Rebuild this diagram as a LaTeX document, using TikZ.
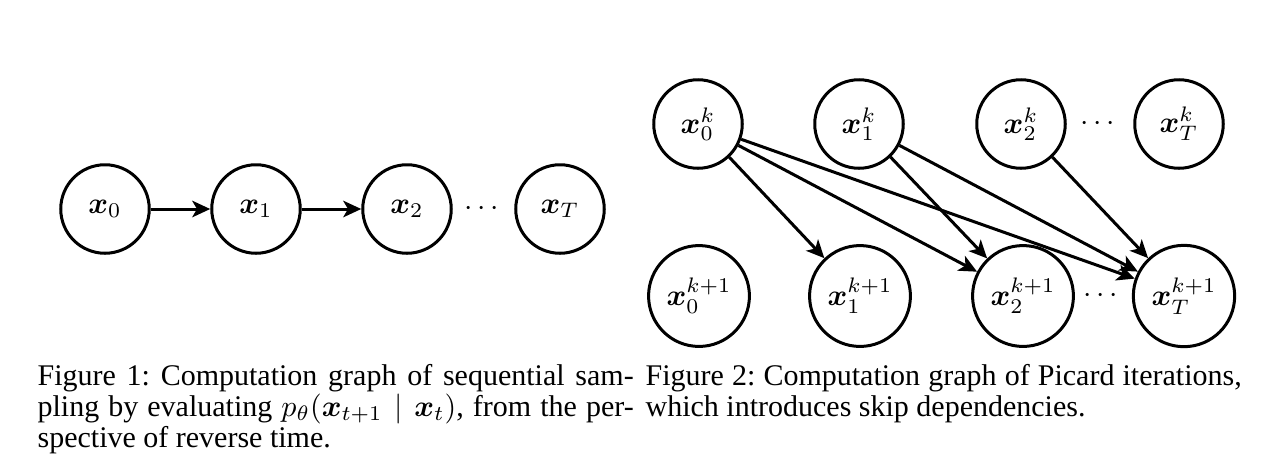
\documentclass[tikz,border=0pt]{standalone}
\usepackage{amsmath,bm}
\usepackage[no-math]{fontspec}
\setmainfont{Liberation Serif}
\usetikzlibrary{arrows.meta}
\frenchspacing
\tikzset{
  var/.style={circle, draw, line width=1pt, minimum size=29.5pt, inner sep=3.3pt, font=\fontsize{10.3}{12}\selectfont},
  arr/.style={-{Stealth[length=6pt,width=5.5pt,inset=1.6pt]}, line width=1pt},
  dotsnode/.style={inner sep=0pt, font=\fontsize{10}{12}\selectfont},
  capline/.style={anchor=base west, inner sep=0pt, font=\fontsize{10}{12}\selectfont}
}
\begin{document}
\begin{tikzpicture}[x=0.3333pt,y=-0.3333pt]
\useasboundingbox (0,0) rectangle (1271,462);
% Figure 1
\node[var] (a0) at (105,209) {$\bm{x}_0$};
\node[var] (a1) at (256,209) {$\bm{x}_1$};
\node[var] (a2) at (407,209) {$\bm{x}_2$};
\node[var] (aT) at (560,209) {$\bm{x}_T$};
\node[dotsnode] (adots) at (484,209) {$\cdots$};
\draw[arr] (a0) -- (a1);
\draw[arr] (a1) -- (a2);
% Figure 2
\node[var] (t0) at (698,124) {$\bm{x}_0^k$};
\node[var] (t1) at (859,124) {$\bm{x}_1^k$};
\node[var] (t2) at (1021,124) {$\bm{x}_2^k$};
\node[var] (tT) at (1179,124) {$\bm{x}_T^k$};
\node[dotsnode] (tdots) at (1100,124) {$\cdots$};
\node[var] (b0) at (699,296) {$\bm{x}_0^{k+1}$};
\node[var] (b1) at (860,296) {$\bm{x}_1^{k+1}$};
\node[var] (b2) at (1023,296) {$\bm{x}_2^{k+1}$};
\node[var] (bT) at (1184,296) {$\bm{x}_T^{k+1}$};
\node[dotsnode] (bdots) at (1103,296) {$\cdots$};
\draw[arr] (t0) -- (b1);
\draw[arr] (t0) -- (b2);
\draw[arr] (t0) -- (bT);
\draw[arr] (t1) -- (b2);
\draw[arr] (t1) -- (bT);
\draw[arr] (t2) -- (bT);
% Captions
\node[capline] (c1a) at (37,385) {\makebox[198.7pt][s]{Figure 1: Computation graph of sequential sam-}};
\node[capline] (c1b) at (37,416) {\makebox[198.7pt][s]{pling by evaluating $p_\theta(\bm{x}_{t+1} \mid \bm{x}_t)$, from the per-}};
\node[capline] (c1c) at (37,447) {spective of reverse time.};
\node[capline] (c2a) at (645,385) {\makebox[198.7pt][s]{Figure 2: Computation graph of Picard iterations,}};
\node[capline] (c2b) at (645,416) {which introduces skip dependencies.};
\end{tikzpicture}
\end{document}
